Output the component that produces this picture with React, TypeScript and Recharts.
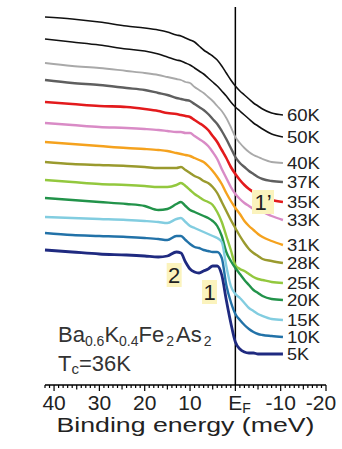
import { LineChart, Line, XAxis, YAxis, ReferenceLine, ReferenceDot, Customized } from "recharts";

const energy = [42, 36, 30, 24, 20, 17, 15, 13, 12, 11, 10, 9, 8, 7, 6, 5, 4, 3, 2, 1, 0, -1, -2, -3, -4, -5, -6, -8, -10.5];

const t60 = [368, 366, 363, 359, 357, 355, 353, 350, 349, 347, 345, 343, 339, 335, 332, 329, 325, 319, 312, 305, 299, 294, 290, 286, 282, 279, 276, 272, 270];
const t50 = [346, 343, 340, 336, 334, 331, 328, 325, 324, 322, 320, 317, 314, 311, 307, 303, 299, 294, 289, 283, 278, 274, 270, 266, 262, 259, 256, 251, 248];
const t40 = [322, 319, 317, 314, 312, 310, 308, 306, 305, 303, 302, 298, 295, 292, 288, 284, 279, 274, 267, 258, 248, 242, 237, 233, 230, 228, 226, 223, 222];
const t37 = [305, 302, 300, 297, 295, 292, 290, 287, 286, 285, 284, 281, 278, 275, 271, 266, 261, 254, 246, 237, 228, 222, 218, 214, 211, 208, 206, 204, 203];
const t35 = [283, 281, 279, 278, 276, 274, 272, 271, 270, 269, 268, 265, 262, 259, 255, 249, 243, 235, 227, 218, 211, 205, 200, 196, 193, 190, 188, 185, 183];
const t33 = [262, 260, 258, 257, 256, 255, 254, 253, 253, 252, 252, 249, 246, 243, 239, 233, 226, 216, 207, 198, 191, 186, 182, 179, 176, 174, 173, 169, 165];
const t31 = [243, 241, 239, 237, 236, 235, 234, 232, 231, 230, 229, 227, 225, 223, 219, 214, 208, 201, 192, 184, 177, 171, 164, 159, 155, 151, 148, 144, 140];
const t28 = [223, 221, 220, 219, 218, 217, 217, 217, 218, 215, 212, 209, 207, 204, 202, 198, 192, 183, 174, 165, 157, 149, 142, 136, 132, 129, 126, 124, 122];
const t25 = [205, 203, 201, 200, 199, 198, 198, 200, 202, 199, 195, 191, 188, 185, 183, 180, 173, 163, 149, 135, 120, 116, 114, 111, 108, 106, 105, 103, 102];
const t20 = [187, 185, 183, 181, 179, 175, 176, 181, 183, 179, 175, 173, 171, 169, 167, 164, 159, 149, 133, 124, 117, 111, 105, 100, 95, 92, 89, 86, 85];
const t15 = [168, 167, 166, 165, 164, 163, 162, 166, 167, 163, 159, 157, 155, 153, 151, 149, 147, 143, 119, 99, 91, 87, 82, 77, 74, 71, 69, 66, 65];
const t10 = [152, 150, 149, 148, 147, 146, 145, 149, 149, 145, 141, 138, 137, 135, 134, 133, 133, 127, 100, 83, 71, 65, 60, 56, 53, 51, 50, 49, 48];
const t5 = [135, 133, 131, 130, 129, 128, 129, 133, 132, 123, 116, 113, 112, 114, 116, 119, 119, 110, 85, 62, 43, 36, 33, 32, 32, 31, 31, 31, 31];

const series = [
  { name: "60K", values: t60, color: "#111111", width: 1.6 },
  { name: "50K", values: t50, color: "#111111", width: 1.6 },
  { name: "40K", values: t40, color: "#a9a9a9", width: 1.8 },
  { name: "37K", values: t37, color: "#5f5f5f", width: 2.4 },
  { name: "35K", values: t35, color: "#e31a1c", width: 2.6 },
  { name: "33K", values: t33, color: "#d98bc6", width: 2.4 },
  { name: "31K", values: t31, color: "#f5a21e", width: 2.4 },
  { name: "28K", values: t28, color: "#9a9a2e", width: 2.4 },
  { name: "25K", values: t25, color: "#93c83e", width: 2.4 },
  { name: "20K", values: t20, color: "#22934a", width: 2.4 },
  { name: "15K", values: t15, color: "#82cde0", width: 2.4 },
  { name: "10K", values: t10, color: "#2272a8", width: 2.4 },
  { name: "5K", values: t5, color: "#1f2a80", width: 2.8 },
];

const peaks = [
  { text: "2", e: 13.5, y: 110 },
  { text: "1", e: 5.7, y: 93 },
  { text: "1\u2019", e: -6.1, y: 183 },
];

const tickValues: number[] = [];
for (let v = 42; v >= -20; v--) tickValues.push(v);

const rows = energy.map((e, i) => {
  const row: Record<string, number> = { e };
  series.forEach((s) => (row[s.name] = s.values[i]));
  return row;
});

const FONT = "'Liberation Sans', Arial, sans-serif";

function EnergyTick(props: any) {
  const { x, y, payload } = props;
  const v = payload.value as number;
  const len = v % 10 === 0 ? 6 : v % 5 === 0 ? 4.5 : 3;
  let label = null;
  if (v % 10 === 0) {
    if (v === 0) {
      label = (
        <text x={x - 7} y={y + 25} fontSize={21} fontFamily={FONT} fill="#222">
          E<tspan fontSize={14} dy={3}>F</tspan>
        </text>
      );
    } else {
      label = (
        <text x={Math.min(x, 321)} y={y + 25} textAnchor="middle" fontSize={21} fontFamily={FONT} fill="#222">
          {v}
        </text>
      );
    }
  }
  return (
    <g>
      <line x1={x} x2={x} y1={y} y2={y + len} stroke="#000" strokeWidth={1.2} />
      {label}
    </g>
  );
}

function PeakMark(props: any) {
  const { cx, cy, text } = props;
  const w = text.length > 1 ? 22 : 15;
  return (
    <g>
      <rect x={cx - w / 2} y={cy - 12} width={w} height={24} fill="#fbf3bd" />
      <text x={cx} y={cy + 8} textAnchor="middle" fontSize={22} fontFamily={FONT} fill="#222">
        {text}
      </text>
    </g>
  );
}

function Compound() {
  return (
    <g fontFamily={FONT} fill="#333">
      <text x={58} y={342} fontSize={22}>
        Ba<tspan fontSize={14} dy={4}>0.6</tspan>
        <tspan dy={-4}>K</tspan>
        <tspan fontSize={14} dy={4}>0.4</tspan>
        <tspan dy={-4}>Fe</tspan>
        <tspan fontSize={14} dy={4} dx={2}>2</tspan>
        <tspan dy={-4} dx={2}>As</tspan>
        <tspan fontSize={14} dy={4} dx={2}>2</tspan>
      </text>
      <text x={58} y={371} fontSize={22}>
        T<tspan fontSize={15} dy={3}>c</tspan>
        <tspan dy={-3}>=36K</tspan>
      </text>
    </g>
  );
}

export default function App() {
  return (
    <div style={{ position: "absolute", left: 0, top: 0, background: "#fff" }}>
      <LineChart width={342} height={449} data={rows} margin={{ top: 7, right: 16, left: 45, bottom: 0 }}>
        <XAxis
          xAxisId="x"
          dataKey="e"
          type="number"
          domain={[-20, 42]}
          reversed
          ticks={tickValues}
          interval={0}
          tickSize={0}
          tickMargin={0}
          tickLine={false}
          tick={<EnergyTick />}
          axisLine={{ stroke: "#000", strokeWidth: 1.6 }}
          height={64}
          label={{
            content: (p: any) => {
              const vb = p.viewBox;
              return (
                <text
                  x={vb.x + vb.width / 2}
                  y={vb.y + vb.height - 17}
                  textAnchor="middle"
                  fontSize={20}
                  textLength={258}
                  lengthAdjust="spacingAndGlyphs"
                  fontFamily={FONT}
                  fill="#222"
                >
                  Binding energy (meV)
                </text>
              );
            },
          }}
        />
        <XAxis
          xAxisId="top"
          orientation="top"
          type="number"
          domain={[-20, 42]}
          reversed
          tick={false}
          tickLine={false}
          height={0}
          axisLine={{ stroke: "#000", strokeWidth: 1.6 }}
        />
        <YAxis
          yAxisId="y"
          type="number"
          domain={[0, 378]}
          width={0}
          tick={false}
          tickLine={false}
          axisLine={{ stroke: "#000", strokeWidth: 1.6 }}
          label={{
            content: (p: any) => {
              const vb = p.viewBox;
              const cx = vb.x - 27;
              const cy = vb.y + vb.height / 2 + 4;
              return (
                <text
                  x={cx}
                  y={cy}
                  transform={`rotate(-90 ${cx} ${cy})`}
                  textAnchor="middle"
                  dominantBaseline="central"
                  fontSize={22}
                  textLength={206}
                  lengthAdjust="spacingAndGlyphs"
                  fontFamily={FONT}
                  fill="#222"
                >
                  Intensity (arb.units)
                </text>
              );
            },
          }}
        />
        <YAxis
          yAxisId="r"
          orientation="right"
          width={0}
          tick={false}
          tickLine={false}
          axisLine={{ stroke: "#000", strokeWidth: 1.6 }}
        />
        <ReferenceLine xAxisId="x" yAxisId="y" x={0} stroke="#000" strokeWidth={1.5} />
        {series.map((s) => (
          <Line
            key={s.name}
            xAxisId="x"
            yAxisId="y"
            dataKey={s.name}
            type="monotone"
            stroke={s.color}
            strokeWidth={s.width}
            dot={false}
            isAnimationActive={false}
            label={(p: any) =>
              p.index === energy.length - 1 ? (
                <text
                  key={s.name + "lbl"}
                  x={p.x + 4}
                  y={p.y}
                  dominantBaseline="central"
                  fontSize={17}
                  textLength={s.name.length > 2 ? 33 : 22}
                  lengthAdjust="spacingAndGlyphs"
                  fontFamily={FONT}
                  fill="#222"
                >
                  {s.name}
                </text>
              ) : (
                <g key={s.name + p.index} />
              )
            }
          />
        ))}
        {peaks.map((pk) => (
          <ReferenceDot
            key={pk.text}
            xAxisId="x"
            yAxisId="y"
            x={pk.e}
            y={pk.y}
            r={0}
            shape={(p: any) => <PeakMark cx={p.cx} cy={p.cy} text={pk.text} />}
          />
        ))}
        <Customized component={Compound} />
      </LineChart>
    </div>
  );
}
